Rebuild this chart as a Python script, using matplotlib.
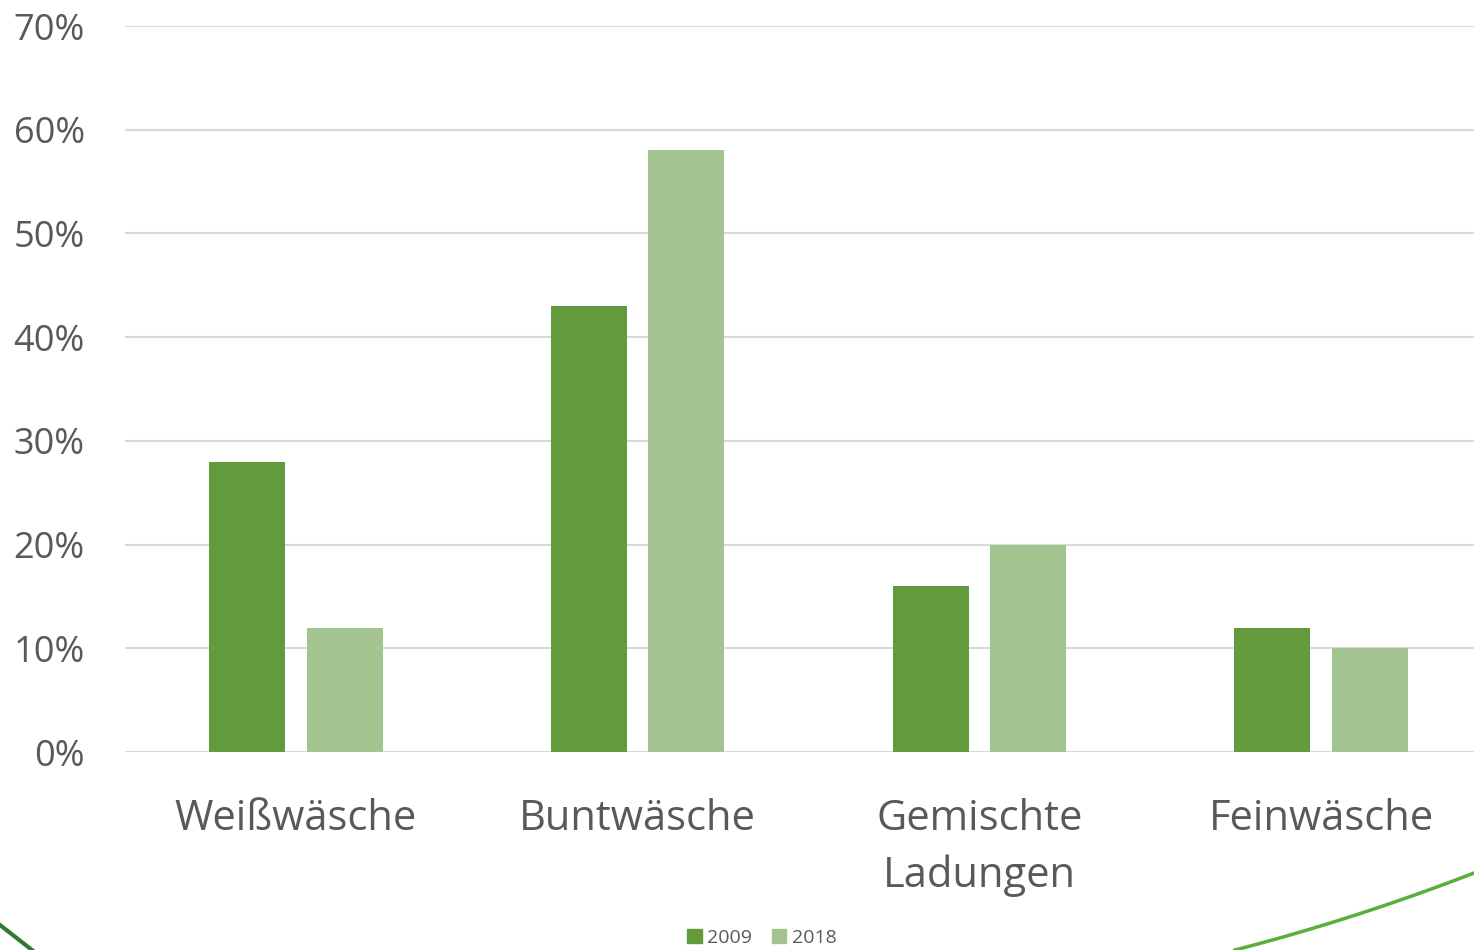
import numpy as np
import matplotlib.pyplot as plt
from matplotlib.ticker import FuncFormatter
from matplotlib.lines import Line2D
from matplotlib.patches import Patch

# data
categories = ['Weißwäsche', 'Buntwäsche', 'Gemischte\nLadungen', 'Feinwäsche']
years = ['2009', '2018']
values_2009 = [28, 43, 16, 12]
values_2018 = [12, 58, 20, 10]

col_2009 = '#639a3c'
col_2018 = '#a3c490'
text_col = '#595959'

plt.rcParams['font.family'] = ['Open Sans', 'DejaVu Sans']

fig = plt.figure(figsize=(14.74, 9.5), dpi=100)
ax = fig.add_axes([125 / 1474, 198 / 950, 1367 / 1474, 726 / 950])

x = np.arange(len(categories))
w = 0.223
off = 0.1426
ax.bar(x - off, values_2009, w, color=col_2009, zorder=3)
ax.bar(x + off, values_2018, w, color=col_2018, zorder=3)

ax.set_xlim(-0.5, 3.5)
ax.set_ylim(0, 70)
ax.set_yticks(range(0, 71, 10))
ax.yaxis.set_major_formatter(FuncFormatter(lambda v, p: f'{v:.0f}%'))
ax.grid(axis='y', color='#d9d9d9', linewidth=1.5, zorder=0)
for s in ax.spines.values():
    s.set_visible(False)
ax.tick_params(axis='y', length=0, labelsize=26, labelcolor=text_col, pad=29)
ax.tick_params(axis='x', length=0, labelsize=30, labelcolor=text_col, pad=33)
ax.set_xticks(x)
ax.set_xticklabels(categories, linespacing=1.45, va='top')

handles = [Patch(color=col_2009), Patch(color=col_2018)]
fig.legend(handles, years, loc='center', bbox_to_anchor=(762 / 1474, 12 / 950),
           ncol=2, frameon=False, fontsize=14, labelcolor=text_col,
           handlelength=0.75, handleheight=0.75, handletextpad=0.3,
           columnspacing=1.0, borderpad=0)

# decorative corner swooshes
fig.add_artist(Line2D([0, 32 / 1474], [1 - 925 / 950, 0], color='#2e7d32', lw=3,
                      transform=fig.transFigure))
t = np.linspace(0, 1, 30)
xs = (1235 + 239 * t) / 1474
ys = 1 - (950 - 77 * (t + 0.25 * t * t) / 1.25) / 950
fig.add_artist(Line2D(xs, ys, color='#5aae3c', lw=2.5, transform=fig.transFigure))

fig.savefig('out.png', dpi=100)
